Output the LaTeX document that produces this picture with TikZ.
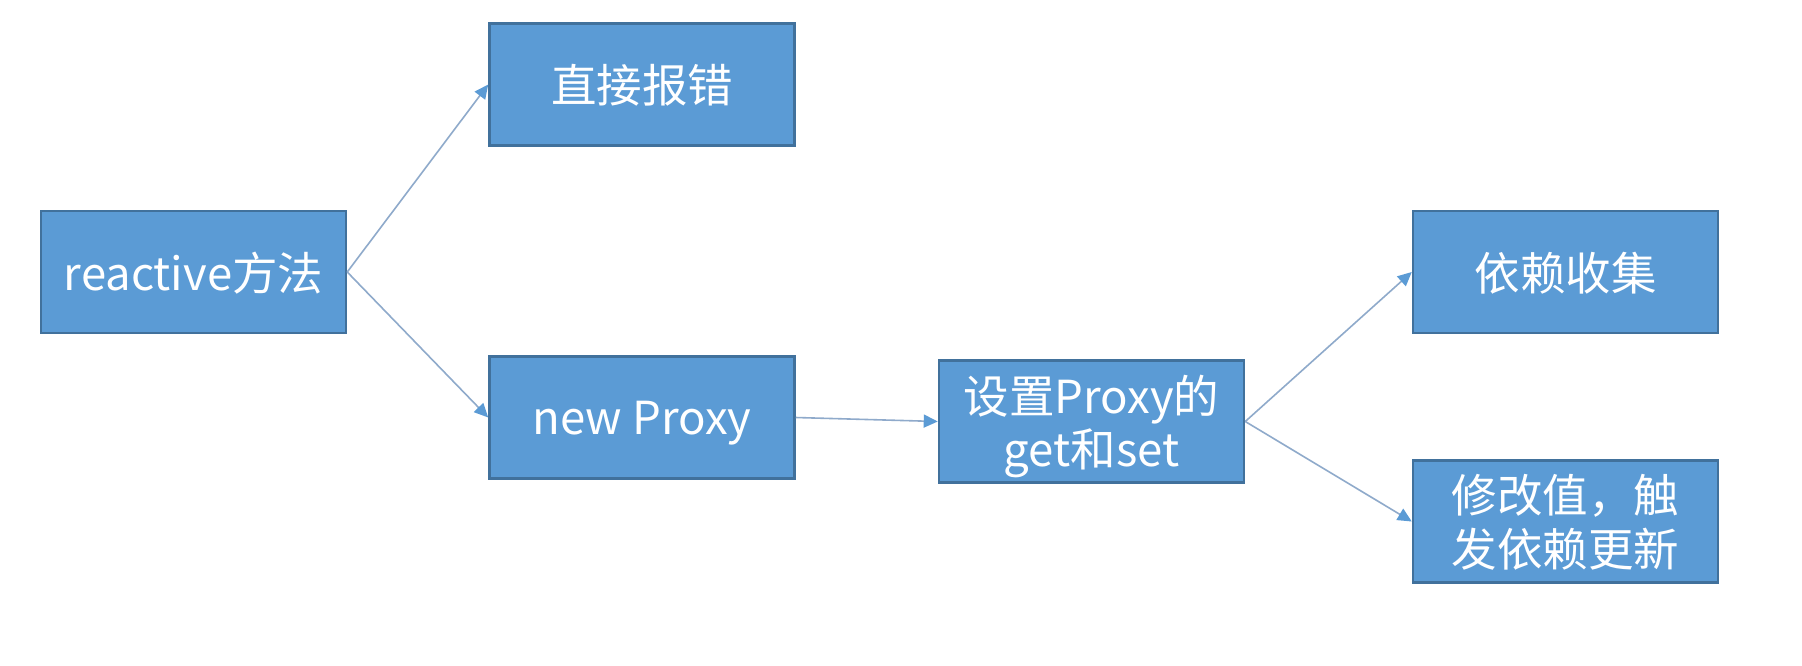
\documentclass[tikz,border=0pt]{standalone}
\usepackage{fontspec}
\setmainfont{Noto Sans CJK SC}
\usetikzlibrary{arrows.meta}
\definecolor{boxfill}{HTML}{5B9BD5}
\definecolor{boxline}{HTML}{41719C}
\definecolor{linkline}{HTML}{8FAACB}
\definecolor{tipcol}{HTML}{5B9BD5}
\newcommand\boxtext[1]{\raisebox{-7pt}[\height][\depth]{\begin{tabular}{@{}c@{}}#1\end{tabular}}}
\tikzset{
  box/.style={rectangle, fill=boxfill, draw=boxline, line width=2.5pt,
    minimum width=305pt, minimum height=122pt, inner sep=0pt,
    text=white,
    font=\fontsize{45.5pt}{52pt}\selectfont},
  link/.style={draw=linkline, line width=1.6pt,
    -{Triangle[length=14pt,width=13pt,color=tipcol]}}
}
\begin{document}
\begin{tikzpicture}[x=1pt,y=-1pt]
\useasboundingbox (0,0) rectangle (1802,665);
\fill[white] (0,0) rectangle (1802,665);
\node[box] (r) at (193.5,272) {\boxtext{reactive方法}};
\node[box] (a) at (642,84.5) {\boxtext{直接报错}};
\node[box] (np) at (642,417.5) {\boxtext{new Proxy}};
\node[box] (s) at (1091.5,421.5) {\boxtext{设置Proxy的\\get和set}};
\node[box] (d) at (1565.5,272) {\boxtext{依赖收集}};
\node[box] (m) at (1565.5,521.5) {\boxtext{修改值，触\\发依赖更新}};
\draw[link] (r.east) -- (a.west);
\draw[link] (r.east) -- (np.west);
\draw[link] (np.east) -- (s.west);
\draw[link] (s.east) -- (d.west);
\draw[link] (s.east) -- (m.west);
\end{tikzpicture}
\end{document}
